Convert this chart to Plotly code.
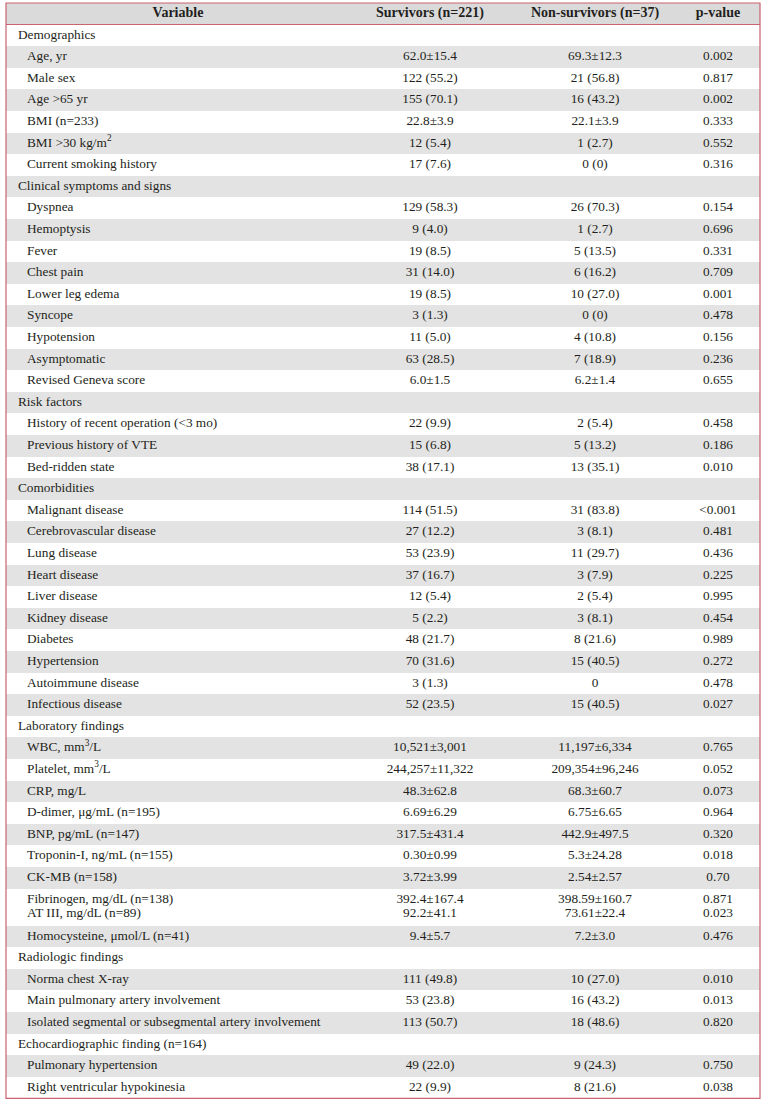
import plotly.graph_objects as go

# --- data ---
header = ["Variable", "Survivors (n=221)", "Non-survivors (n=37)", "p-value"]

# level 0 = section heading, 1 = item
levels = [0, 1, 1, 1, 1, 1, 1,
          0, 1, 1, 1, 1, 1, 1, 1, 1, 1,
          0, 1, 1, 1,
          0, 1, 1, 1, 1, 1, 1, 1, 1, 1, 1,
          0, 1, 1, 1, 1, 1, 1, 1, 1, 1,
          0, 1, 1, 1,
          0, 1, 1]

variables = [
    "Demographics", "Age, yr", "Male sex", "Age &gt;65 yr", "BMI (n=233)",
    "BMI &gt;30 kg/m<sup>2</sup>", "Current smoking history",
    "Clinical symptoms and signs", "Dyspnea", "Hemoptysis", "Fever", "Chest pain",
    "Lower leg edema", "Syncope", "Hypotension", "Asymptomatic", "Revised Geneva score",
    "Risk factors", "History of recent operation (&lt;3 mo)", "Previous history of VTE",
    "Bed-ridden state",
    "Comorbidities", "Malignant disease", "Cerebrovascular disease", "Lung disease",
    "Heart disease", "Liver disease", "Kidney disease", "Diabetes", "Hypertension",
    "Autoimmune disease", "Infectious disease",
    "Laboratory findings", "WBC, mm<sup>3</sup>/L", "Platelet, mm<sup>3</sup>/L", "CRP, mg/L",
    "D-dimer, μg/mL (n=195)", "BNP, pg/mL (n=147)", "Troponin-I, ng/mL (n=155)",
    "CK-MB (n=158)", "Fibrinogen, mg/dL (n=138)<br>AT III, mg/dL (n=89)",
    "Homocysteine, μmol/L (n=41)",
    "Radiologic findings", "Norma chest X-ray", "Main pulmonary artery involvement",
    "Isolated segmental or subsegmental artery involvement",
    "Echocardiographic finding (n=164)", "Pulmonary hypertension",
    "Right ventricular hypokinesia",
]

survivors = [
    "", "62.0±15.4", "122 (55.2)", "155 (70.1)", "22.8±3.9", "12 (5.4)", "17 (7.6)",
    "", "129 (58.3)", "9 (4.0)", "19 (8.5)", "31 (14.0)", "19 (8.5)", "3 (1.3)",
    "11 (5.0)", "63 (28.5)", "6.0±1.5",
    "", "22 (9.9)", "15 (6.8)", "38 (17.1)",
    "", "114 (51.5)", "27 (12.2)", "53 (23.9)", "37 (16.7)", "12 (5.4)", "5 (2.2)",
    "48 (21.7)", "70 (31.6)", "3 (1.3)", "52 (23.5)",
    "", "10,521±3,001", "244,257±11,322", "48.3±62.8", "6.69±6.29", "317.5±431.4",
    "0.30±0.99", "3.72±3.99", "392.4±167.4<br>92.2±41.1", "9.4±5.7",
    "", "111 (49.8)", "53 (23.8)", "113 (50.7)",
    "", "49 (22.0)", "22 (9.9)",
]

non_survivors = [
    "", "69.3±12.3", "21 (56.8)", "16 (43.2)", "22.1±3.9", "1 (2.7)", "0 (0)",
    "", "26 (70.3)", "1 (2.7)", "5 (13.5)", "6 (16.2)", "10 (27.0)", "0 (0)",
    "4 (10.8)", "7 (18.9)", "6.2±1.4",
    "", "2 (5.4)", "5 (13.2)", "13 (35.1)",
    "", "31 (83.8)", "3 (8.1)", "11 (29.7)", "3 (7.9)", "2 (5.4)", "3 (8.1)",
    "8 (21.6)", "15 (40.5)", "0", "15 (40.5)",
    "", "11,197±6,334", "209,354±96,246", "68.3±60.7", "6.75±6.65", "442.9±497.5",
    "5.3±24.28", "2.54±2.57", "398.59±160.7<br>73.61±22.4", "7.2±3.0",
    "", "10 (27.0)", "16 (43.2)", "18 (48.6)",
    "", "9 (24.3)", "8 (21.6)",
]

p_values = [
    "", "0.002", "0.817", "0.002", "0.333", "0.552", "0.316",
    "", "0.154", "0.696", "0.331", "0.709", "0.001", "0.478", "0.156", "0.236", "0.655",
    "", "0.458", "0.186", "0.010",
    "", "&lt;0.001", "0.481", "0.436", "0.225", "0.995", "0.454", "0.989", "0.272",
    "0.478", "0.027",
    "", "0.765", "0.052", "0.073", "0.964", "0.320", "0.018", "0.70",
    "0.871<br>0.023", "0.476",
    "", "0.010", "0.013", "0.820",
    "", "0.750", "0.038",
]

# --- styling ---
W, H = 765, 1102
BORDER = "#c9636f"
GREY = "#e3e3e3"
HEAD_BG = "#dadada"
TXT = "#231f20"
FONT = "Liberation Serif"

TX0, TX1 = 6, 760          # table left / right
TOP, HEAD_H = 3, 21.5      # table top, header height
ROW_H, LINE_H = 21.6, 15.4 # single row height, extra per extra line
COL_CENTER = [178, 430, 595, 718]
INDENT = [18, 27]

# row geometry (pixels, y axis runs top-down)
nlines = [v.count("<br>") + 1 for v in variables]
heights = [ROW_H + LINE_H * (n - 1) for n in nlines]
centers = []
y = TOP + HEAD_H
for h in heights:
    centers.append(y + h / 2)
    y += h
BOTTOM = y
row_fill = ["white" if i % 2 == 0 else GREY for i in range(len(variables))]

fig = go.Figure()

# row backgrounds
fig.add_trace(go.Bar(
    orientation="h", y=centers, x=[TX1 - TX0] * len(centers), base=TX0,
    width=heights, marker=dict(color=row_fill, line_width=0),
    hoverinfo="skip", showlegend=False,
))
# header background
fig.add_trace(go.Bar(
    orientation="h", y=[TOP + HEAD_H / 2], x=[TX1 - TX0], base=TX0,
    width=[HEAD_H], marker=dict(color=HEAD_BG, line_width=0),
    hoverinfo="skip", showlegend=False,
))


def add_column(texts, xs, ys, pos, bold=False, size=13.3):
    tx, ty, tt = [], [], []
    for t, cx, cy in zip(texts, xs, ys):
        if not t:
            continue
        parts = t.split("<br>")
        for k, p in enumerate(parts):
            tx.append(cx)
            ty.append(cy + (k - (len(parts) - 1) / 2) * 14)
            tt.append(f"<b>{p}</b>" if bold else p)
    fig.add_trace(go.Scatter(
        x=tx, y=ty, text=tt, mode="text", textposition=pos,
        textfont=dict(family=FONT, size=size, color=TXT),
        hoverinfo="skip", showlegend=False, cliponaxis=False,
    ))


n = len(centers)
add_column(variables, [INDENT[lv] for lv in levels], centers, "middle right")
add_column(survivors, [COL_CENTER[1]] * n, centers, "middle center")
add_column(non_survivors, [COL_CENTER[2]] * n, centers, "middle center")
add_column(p_values, [COL_CENTER[3]] * n, centers, "middle center")

# header texts
add_column(header, COL_CENTER, [TOP + HEAD_H / 2] * 4, "middle center",
           bold=True, size=14)

# table frame and header rule
fig.add_shape(type="rect", x0=TX0, x1=TX1, y0=TOP, y1=BOTTOM,
              line=dict(color=BORDER, width=1.2), layer="above")
fig.add_shape(type="line", x0=TX0, x1=TX1, y0=TOP + HEAD_H, y1=TOP + HEAD_H,
              line=dict(color=BORDER, width=1), layer="above")

fig.update_layout(
    width=W, height=H,
    margin=dict(l=0, r=0, t=0, b=0),
    paper_bgcolor="white", plot_bgcolor="white",
    xaxis=dict(range=[0, W], visible=False, fixedrange=True),
    yaxis=dict(range=[H, 0], visible=False, fixedrange=True),
    bargap=0,
)

fig.write_html("out.html", config={"displayModeBar": False},
               post_script="document.body.style.margin='0';")
